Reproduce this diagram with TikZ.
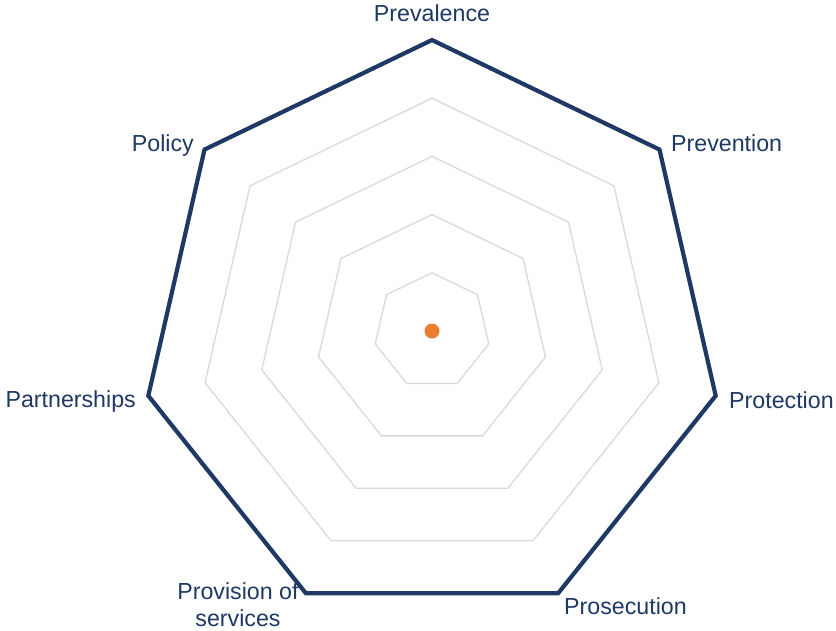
\documentclass[tikz,border=0pt]{standalone}
\usepackage{fontspec}
\setmainfont{Liberation Sans}
\usetikzlibrary{calc}
\definecolor{navy}{HTML}{1F3864}
\definecolor{gridgray}{HTML}{D9D9D9}
\definecolor{dotorange}{HTML}{ED7D31}
\begin{document}
\begin{tikzpicture}[x=1pt,y=-1pt,
  lbl/.style={text=navy,font=\fontsize{23.2}{27}\selectfont,inner sep=0pt},
  gridline/.style={draw=gridgray,line width=1.3pt,line join=miter},
  outer/.style={draw=navy,line width=4.2pt,line join=miter}]
\useasboundingbox (0,0) rectangle (836,630);
\coordinate (c) at (432,331);
\foreach \r in {58.2,116.4,174.6,232.8}{
  \draw[gridline] ($(c)+(0,-\r)$) \foreach \k in {1,...,6}{ -- ($(c)+({cos(90-\k*360/7)*\r},{-sin(90-\k*360/7)*\r})$)} -- cycle;
}
\node[lbl,align=center] (serv) at (238,605) {Provision of\\services};
\draw[outer] ($(c)+(0,-291)$) \foreach \k in {1,...,6}{ -- ($(c)+({cos(90-\k*360/7)*291},{-sin(90-\k*360/7)*291})$)} -- cycle;
\fill[dotorange] (c) circle (7.5);
\node[lbl,anchor=base] (prev) at (432,21) {Prevalence};
\node[lbl,anchor=base west] (pvt) at (671,151) {Prevention};
\node[lbl,anchor=base west] (prot) at (729,408) {Protection};
\node[lbl,anchor=base west] (pros) at (564,614) {Prosecution};
\node[lbl,anchor=base east] (part) at (136,407) {Partnerships};
\node[lbl,anchor=base east] (pol) at (194,151) {Policy};
\end{tikzpicture}
\end{document}
